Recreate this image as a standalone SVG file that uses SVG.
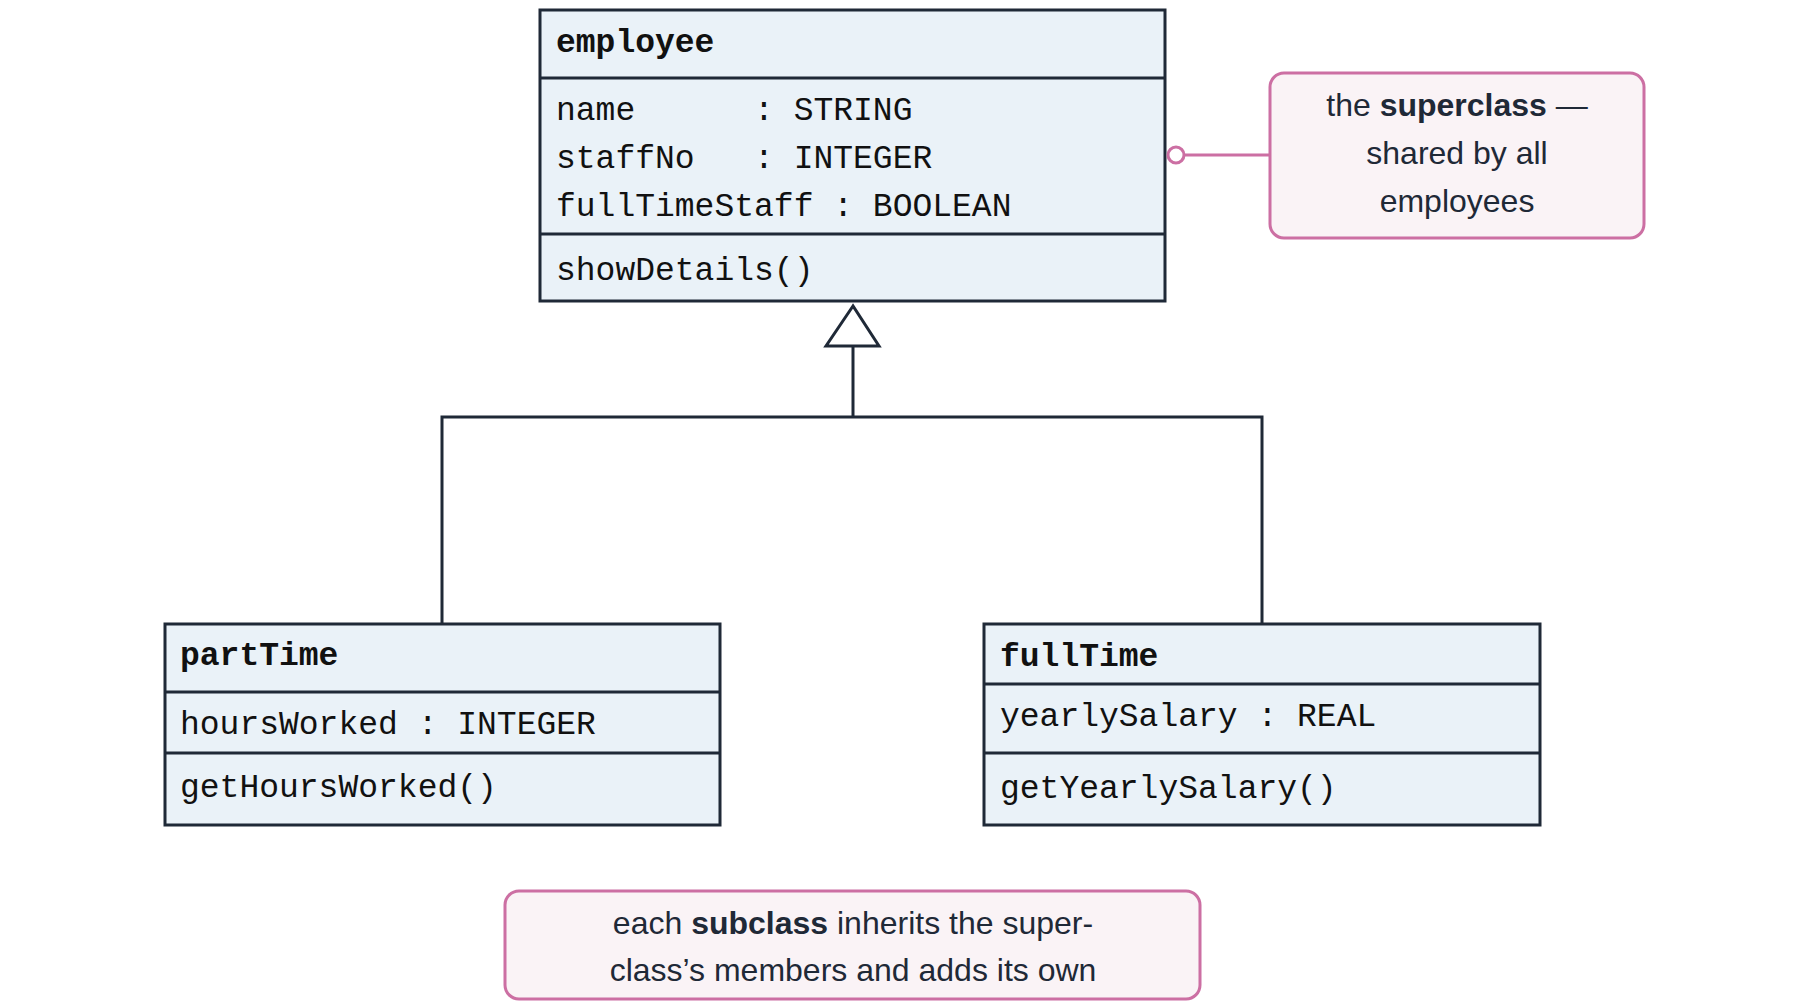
<svg xmlns="http://www.w3.org/2000/svg" width="1800" height="1004" viewBox="0 0 1800 1004">
<style>
.box{fill:#eaf2f8;stroke:#1f2937;stroke-width:3}
.sep{stroke:#1f2937;stroke-width:3}
.m{font-family:"Liberation Mono","DejaVu Sans Mono",monospace;font-size:33px;fill:#111}
.b{font-weight:bold}
.note{fill:#faf3f6;stroke:#cc6fa3;stroke-width:3}
.s{font-family:"Liberation Sans","DejaVu Sans",sans-serif;font-size:32px;fill:#1f2937;text-anchor:middle}
.con{fill:none;stroke:#1f2937;stroke-width:3}
</style>
<g id="employee">
<rect class="box" x="540" y="10" width="625" height="291"/>
<line class="sep" x1="540" y1="78" x2="1165" y2="78"/>
<line class="sep" x1="540" y1="234" x2="1165" y2="234"/>
<text class="m b" x="556" y="52">employee</text>
<text class="m" x="556" y="120" xml:space="preserve">name      : STRING</text>
<text class="m" x="556" y="168" xml:space="preserve">staffNo   : INTEGER</text>
<text class="m" x="556" y="216" xml:space="preserve">fullTimeStaff : BOOLEAN</text>
<text class="m" x="556" y="280">showDetails()</text>
</g>
<g id="partTime">
<rect class="box" x="165" y="624" width="555" height="201"/>
<line class="sep" x1="165" y1="692" x2="720" y2="692"/>
<line class="sep" x1="165" y1="753" x2="720" y2="753"/>
<text class="m b" x="180" y="665">partTime</text>
<text class="m" x="180" y="734">hoursWorked : INTEGER</text>
<text class="m" x="180" y="797">getHoursWorked()</text>
</g>
<g id="fullTime">
<rect class="box" x="984" y="624" width="556" height="201"/>
<line class="sep" x1="984" y1="684" x2="1540" y2="684"/>
<line class="sep" x1="984" y1="753" x2="1540" y2="753"/>
<text class="m b" x="1000" y="666">fullTime</text>
<text class="m" x="1000" y="726">yearlySalary : REAL</text>
<text class="m" x="1000" y="798">getYearlySalary()</text>
</g>
<g id="connectors">
<polyline class="con" points="442,624 442,417 1262,417 1262,624"/>
<line class="con" x1="853" y1="417" x2="853" y2="346"/>
<polygon class="con" points="853,306 826,346 879,346" fill="#fff"/>
<line x1="1184" y1="155" x2="1270" y2="155" stroke="#cc6fa3" stroke-width="3"/>
<circle cx="1176" cy="155" r="8" fill="#fff" stroke="#cc6fa3" stroke-width="3"/>
</g>
<g id="note-superclass">
<rect class="note" x="1270" y="73" width="374" height="165" rx="14"/>
<text class="s" x="1457" y="116">the <tspan font-weight="bold">superclass</tspan> —</text>
<text class="s" x="1457" y="164">shared by all</text>
<text class="s" x="1457" y="212">employees</text>
</g>
<g id="note-subclass">
<rect class="note" x="505" y="891" width="695" height="108" rx="14"/>
<text class="s" x="853" y="934">each <tspan font-weight="bold">subclass</tspan> inherits the super-</text>
<text class="s" x="853" y="981">class’s members and adds its own</text>
</g>
</svg>
